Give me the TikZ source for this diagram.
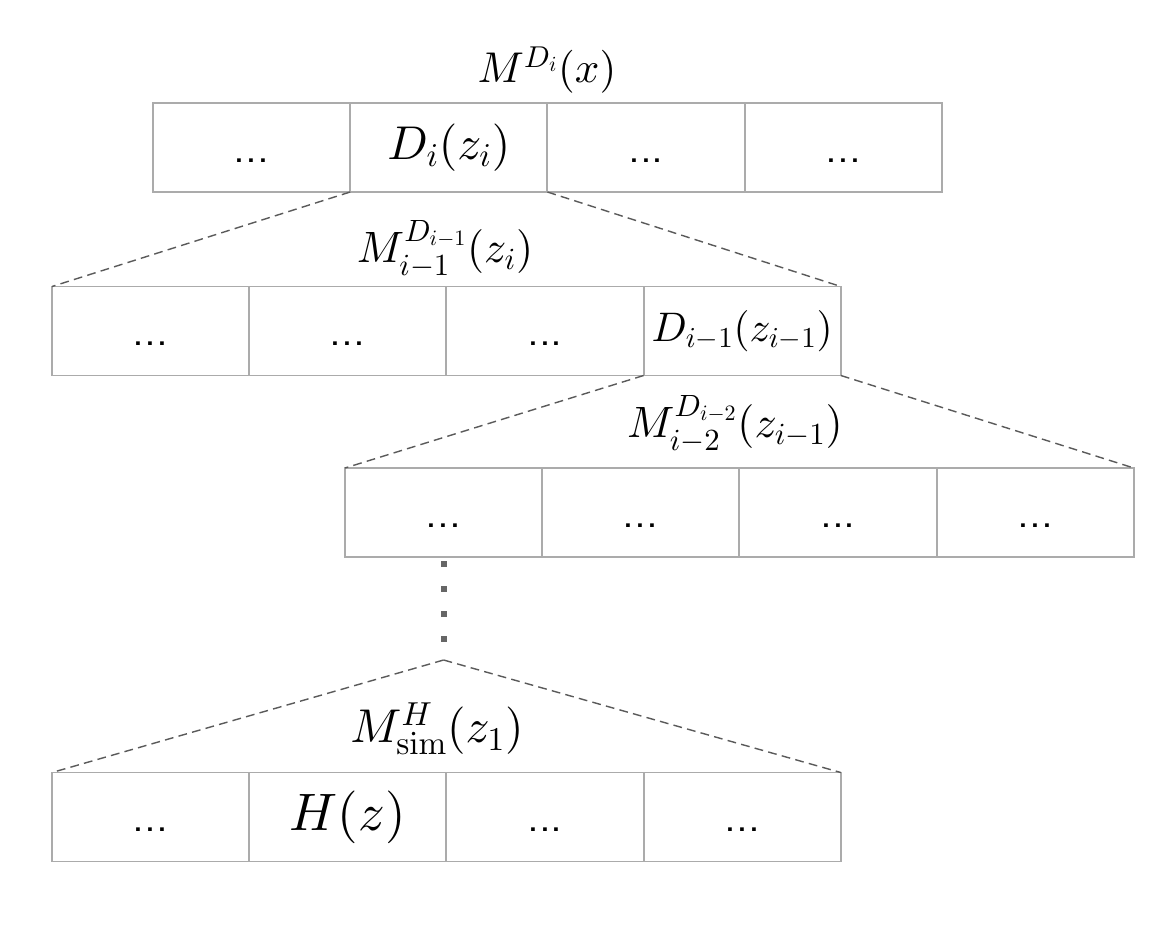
\documentclass[tikz,border=0pt]{standalone}
\usepackage{amsmath}
\usepackage{tikz}
\usetikzlibrary{positioning}

% scalable math fonts for the large labels
\DeclareFontShape{OT1}{cmr}{m}{n}{<->cmr10}{}
\DeclareFontShape{OML}{cmm}{m}{it}{<->cmmi10}{}
\DeclareFontShape{OMS}{cmsy}{m}{n}{<->cmsy10}{}

\definecolor{cellgray}{HTML}{ABABAB}
\definecolor{linegray}{HTML}{5A5A5A}
\definecolor{dotgray}{HTML}{666666}

\tikzset{
	cell/.style={draw=cellgray, line width=1.1pt, minimum width=3.945cm, minimum height=1.78cm,
		inner sep=0pt, outer sep=0pt, font=\fontsize{20}{24}\selectfont},
	dots/.style={cell, font=\fontsize{26}{30}\sffamily, text height=17pt, text depth=0pt},
	levellabel/.style={inner sep=0pt},
	zoomline/.style={linegray, line width=0.8pt, dash pattern=on 5pt off 3pt},
	vdotline/.style={dotgray, line width=3.4pt, dash pattern=on 3.4pt off 10.9pt}
}

\begin{document}
\begin{tikzpicture}[x=0.02cm, y=-0.02cm]
	\useasboundingbox (0,0) rectangle (1170,924);
	% top level
	\node[dots] (a1) at (251.6,147.5) {...};
	\node[cell, right=0pt of a1, font=\fontsize{27}{32}\selectfont] (a2) {$D_i(z_i)$\hspace{0.26cm}};
	\node[dots, right=0pt of a2] (a3) {...};
	\node[dots, right=0pt of a3] (a4) {...};
	\node[levellabel, font=\fontsize{24.5}{29}\selectfont] (la) at (547,70) {$M^{D_i}(x)$};
	% second level
	\node[dots] (b1) at (150.6,331) {...};
	\node[dots, right=0pt of b1] (b2) {...};
	\node[dots, right=0pt of b2] (b3) {...};
	\node[cell, right=0pt of b3, font=\fontsize{23.5}{28}\selectfont] (b4) {$D_{i-1}(z_{i-1})$\hspace{0.22cm}};
	\node[levellabel, font=\fontsize{25}{30}\selectfont] (lb) at (445,249) {$M_{i-1}^{D_{i-1}}(z_i)$};
	% third level
	\node[dots] (c1) at (443.6,512.5) {...};
	\node[dots, right=0pt of c1] (c2) {...};
	\node[dots, right=0pt of c2] (c3) {...};
	\node[dots, right=0pt of c3] (c4) {...};
	\node[levellabel, font=\fontsize{25}{30}\selectfont] (lc) at (735,424) {$M_{i-2}^{D_{i-2}}(z_{i-1})$};
	% bottom level
	\node[dots] (d1) at (150.6,817) {...};
	\node[cell, right=0pt of d1, font=\fontsize{30}{35}\selectfont] (d2) {$H(z)$\hspace{0.34cm}};
	\node[dots, right=0pt of d2] (d3) {...};
	\node[dots, right=0pt of d3] (d4) {...};
	\node[levellabel, font=\fontsize{27}{32}\selectfont] (ld) at (437,729) {$M_{\mathrm{sim}}^{H}(z_1)$};

	\draw[zoomline] (a2.south west) -- (b1.north west);
	\draw[zoomline] (a2.south east) -- (b4.north east);
	\draw[zoomline] (b4.south west) -- (c1.north west);
	\draw[zoomline] (b4.south east) -- (c4.north east);

	\coordinate (dottop) at (443.6,561);
	\coordinate (dotend) at (443.6,645);
	\coordinate (apex) at (443.6,660);
	\draw[vdotline] (dottop) -- (dotend);
	\draw[zoomline] (apex) -- (d1.north west);
	\draw[zoomline] (apex) -- (d4.north east);
\end{tikzpicture}
\end{document}
